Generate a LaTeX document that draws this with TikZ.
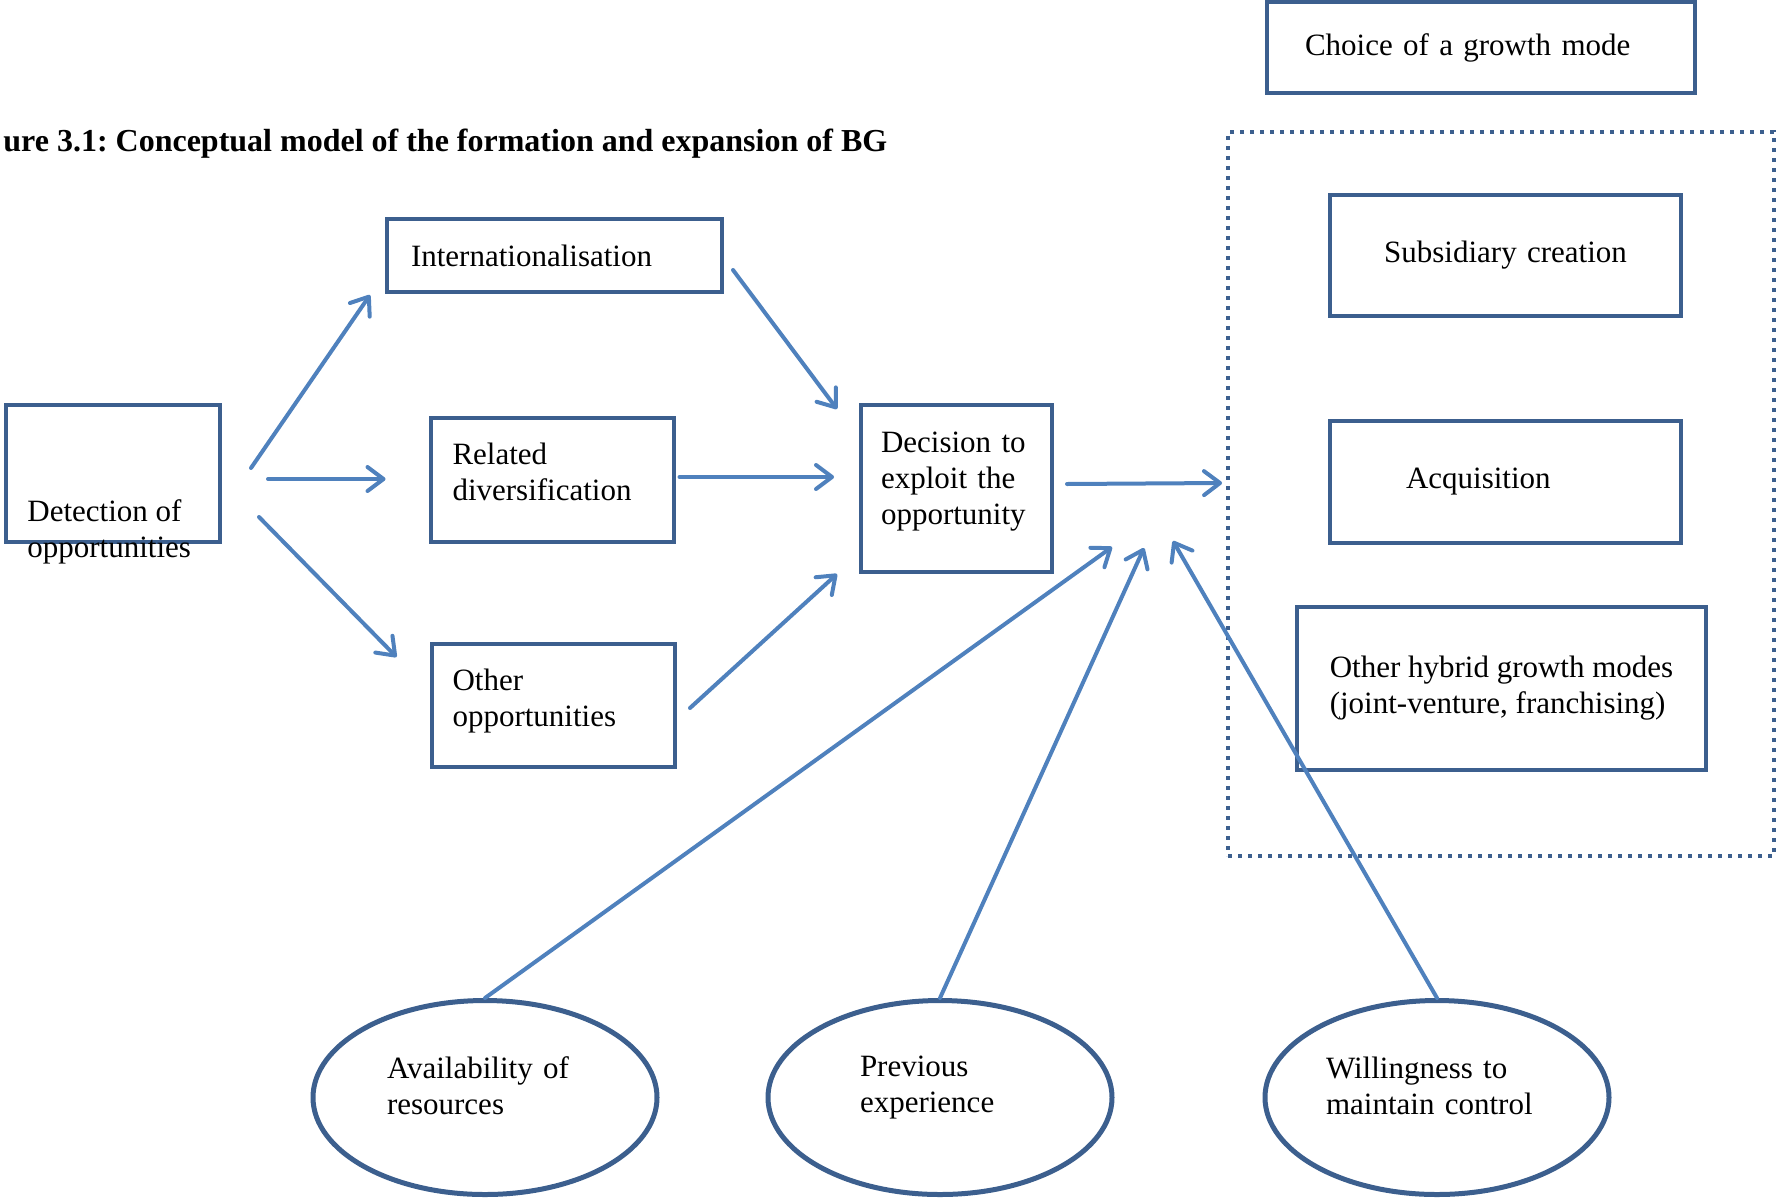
\documentclass[tikz,border=0pt]{standalone}
\usepackage{fontspec}
\setmainfont{Liberation Serif}
\usepackage{xcolor}
\usepackage{tikz}
\usetikzlibrary{shapes,arrows,positioning,calc,arrows.meta}
\frenchspacing

\definecolor{boxblue}{RGB}{60,95,142}
\definecolor{arrowblue}{RGB}{79,129,189}

\tikzset{
    txt/.style={font=\fontsize{15.5}{18}\selectfont},
    box/.style={txt, draw=boxblue, line width=2pt, rectangle, align=left, inner ysep=0pt},
    oval/.style={txt, draw=boxblue, line width=2.5pt, ellipse, align=left, inner sep=0pt,
        minimum width=172pt, minimum height=97pt},
    frame/.style={draw=boxblue, line width=2pt, dash pattern=on 2pt off 3pt},
    arr/.style={draw=arrowblue, line width=2pt, line cap=round,
        -{Straight Barb[length=8pt,width=12pt,round]}},
}

\begin{document}
\begin{tikzpicture}[x=0.5pt, y=-0.5pt]
    \useasboundingbox (0,0) rectangle (1776,1199);

    % Title
    \node[anchor=base west, inner sep=0pt, font=\fontsize{16}{18}\selectfont\bfseries] (title) at (3,151)
        {ure 3.1: Conceptual model of the formation and expansion of BG};

    % Opportunities
    \node[box, minimum width=107pt, minimum height=68.5pt] (det) at (113,473.5) {};
    \node[txt, anchor=west, inner sep=0pt, align=left] (dettext) at (27,532)
        {Detection of\\opportunities};
    \node[box, minimum width=167.5pt, minimum height=36.5pt, inner xsep=12pt, text width=143.5pt] (int) at (554.5,255.5)
        {Internationalisation};
    \node[box, minimum width=121.5pt, minimum height=62pt, inner xsep=11pt, text width=99.5pt, text depth=26pt] (rel) at (552,480)
        {Related\\diversification};
    \node[box, minimum width=121.5pt, minimum height=61.5pt, inner xsep=10.5pt, text width=100.5pt, text depth=26pt] (oth) at (553,705.5)
        {Other\\opportunities};
    \node[box, minimum width=95.5pt, minimum height=83.5pt, inner xsep=10pt, text width=75.5pt, text depth=46pt] (dec) at (956.5,488.5)
        {Decision to\\exploit the\\opportunity};

    % Growth modes
    \node[box, minimum width=214pt, minimum height=45.5pt, inner xsep=19pt, text width=176pt] (choice) at (1481,47.5)
        {Choice of a growth mode};
    \node[frame, rectangle, minimum width=273pt, minimum height=362pt] (modes) at (1501,494) {};
    \node[box, align=center, minimum width=175.5pt, minimum height=60.5pt, inner xsep=10pt, text width=155.5pt] (subs) at (1505.5,255.5)
        {Subsidiary creation};
    \node[box, minimum width=175.5pt, minimum height=61pt, inner xsep=38pt, text width=99.5pt] (acq) at (1505.5,482)
        {Acquisition};
    \node[box, minimum width=204.5pt, minimum height=81.5pt] (hyb) at (1501.5,688.5)
        {Other hybrid growth modes\\(joint-venture, franchising)};

    % Factors
    \node[oval, text width=98pt, text depth=29.5pt] (avail) at (485,1097.5) {Availability of\\resources};
    \node[oval, text width=80pt, text depth=31.5pt] (prev) at (940,1097.5) {Previous\\experience};
    \node[oval, text width=111pt, text depth=29.5pt] (will) at (1437,1097.5) {Willingness to\\maintain control};

    \coordinate (in1) at (1112,547);
    \coordinate (in2) at (1144,548);
    \coordinate (in3) at (1173,541);

    % Arrows
    \draw[arr] ($(det.east)+(29,-5.5)$) -- ($(int.south west)+(-15,1)$);
    \draw[arr] ($(det.east)+(46,5.5)$) -- ($(rel.west)+(-43,-1)$);
    \draw[arr] ($(det.east)+(37,43.5)$) -- ($(oth.north west)+(-33,15)$);
    \draw[arr] ($(int.east)+(9,14.5)$) -- ($(dec.north west)+(-22,6)$);
    \draw[arr] ($(rel.east)+(4,-3)$) -- ($(dec.west)+(-25,-11.5)$);
    \draw[arr] ($(oth.east)+(13.5,2.5)$) -- ($(dec.south west)+(-22,0)$);
    \draw[arr] ($(dec.east)+(13,-4.5)$) -- ($(modes.west)+(-4,-11)$);
    \draw[arr] (avail.north) -- (in1);
    \draw[arr] (prev.north) -- (in2);
    \draw[arr] (will.north) -- (in3);
\end{tikzpicture}
\end{document}
